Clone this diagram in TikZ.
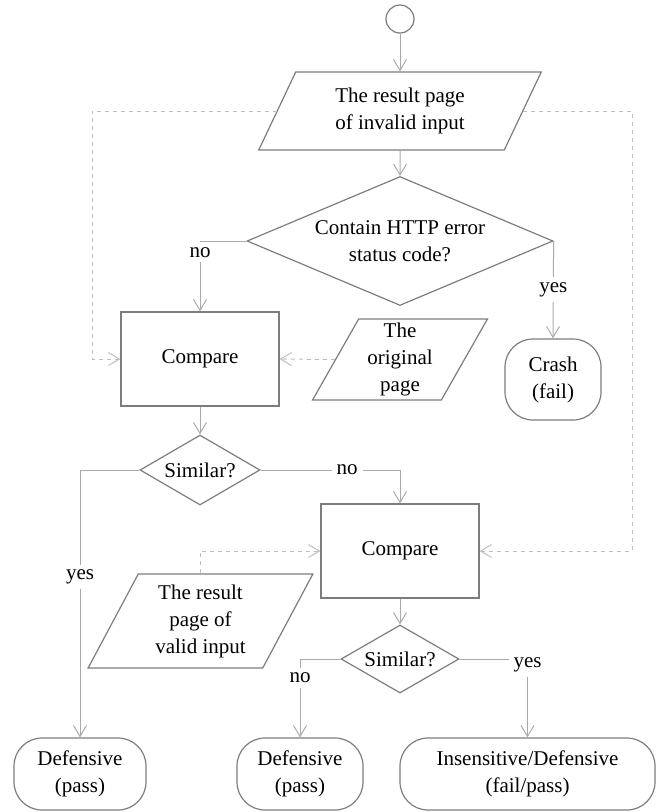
\documentclass[tikz,border=0pt]{standalone}
\usepackage{fontspec}
\setmainfont{Liberation Serif}
\usetikzlibrary{shapes.geometric,arrows.meta}

\definecolor{shapegray}{RGB}{125,125,125}
\definecolor{linegray}{RGB}{170,170,170}
\definecolor{dashgray}{RGB}{190,190,190}

\begin{document}
\begin{tikzpicture}[x=1pt, y=-1pt,
	font=\fontsize{21}{27}\selectfont,
	box/.style={draw=shapegray, line width=1.2pt, align=center},
	proc/.style={box, rectangle, minimum width=158pt, minimum height=94pt},
	io/.style={box, trapezium, trapezium left angle=63.5, trapezium right angle=116.5,
		trapezium stretches=true, inner sep=0pt},
	decide/.style={box, diamond, inner sep=0pt},
	term/.style={box, rounded corners=28pt, minimum height=72pt, inner sep=0pt},
	flow/.style={draw=linegray, line width=1pt, -{Straight Barb[length=11pt, width=13pt]}},
	back/.style={flow, draw=dashgray, dash pattern=on 4pt off 4pt},
	lbl/.style={fill=white, inner sep=5pt}]
	\useasboundingbox (0,0) rectangle (660,812);

	% nodes
	\node[box, circle, minimum size=28pt, inner sep=0pt] (start) at (400,19) {};
	\node[io, minimum width=283pt, minimum height=78pt] (invalid) at (400,111) {The result page\\of invalid input};
	\node[decide, aspect=2.37, minimum width=306pt, minimum height=129pt] (http) at (400,241) {Contain HTTP error\\status code?};
	\node[proc] (cmpA) at (200,359) {Compare};
	\node[io, minimum width=175pt, minimum height=81pt] (orig) at (400,359.5) {The\\original\\page};
	\node[term, minimum width=96pt, minimum height=81pt] (crash) at (553,379.5) {Crash\\(fail)};
	\node[decide, aspect=1.71, minimum width=120pt, minimum height=70pt] (simA) at (200,470) {Similar?};
	\node[proc] (cmpB) at (400,551) {Compare};
	\node[io, minimum width=225pt, minimum height=94pt] (valid) at (200.5,621) {The result\\page of\\valid input};
	\node[decide, aspect=1.71, minimum width=118pt, minimum height=68pt] (simB) at (400,659) {Similar?};
	\node[term, minimum width=132pt] (defA) at (80,774) {Defensive\\(pass)};
	\node[term, minimum width=126pt] (defB) at (300,774) {Defensive\\(pass)};
	\node[term, minimum width=255pt] (insens) at (527.5,774) {Insensitive/Defensive\\(fail/pass)};

	\coordinate (leftrun) at (92,0);
	\coordinate (rightrun) at (632,0);

	% solid flow
	\draw[flow] (start) -- (invalid);
	\draw[flow] (invalid) -- (http);
	\draw[flow] (http.west) -| (cmpA.north) node[lbl, pos=0.58] {no};
	\draw[flow] (http.east) -- (crash.north) node[lbl, midway] {yes};
	\draw[flow] (cmpA) -- (simA);
	\draw[flow] (simA.west) -| (defA.north) node[lbl, pos=0.7] {yes};
	\draw[flow] (simA.east) -| (cmpB.north) node[lbl, pos=0.31] {no};
	\draw[flow] (cmpB) -- (simB);
	\draw[flow] (simB.west) -| (defB.north) node[lbl, pos=0.62] {no};
	\draw[flow] (simB.east) -| (insens.north) node[lbl, pos=0.54] {yes};

	% dashed inputs
	\draw[back] (invalid.west) -| (leftrun |- cmpA.west) -- (cmpA.west);
	\draw[back] (invalid.east) -| (rightrun |- cmpB.east) -- (cmpB.east);
	\draw[back] (orig.west) -- (cmpA.east);
	\draw[back] (valid.north -| valid.center) |- (cmpB.west);
\end{tikzpicture}
\end{document}
